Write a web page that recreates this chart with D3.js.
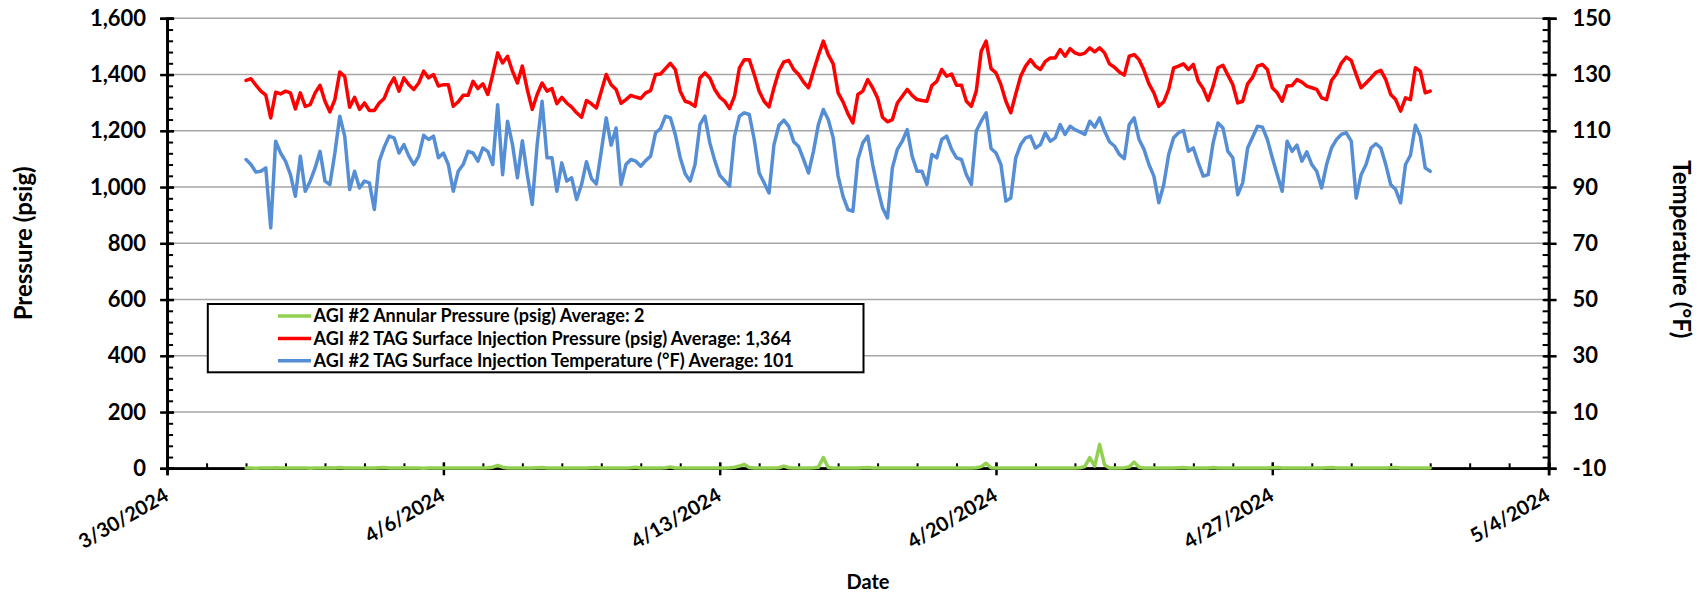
<!DOCTYPE html>
<html><head><meta charset="utf-8">
<script src="https://cdn.jsdelivr.net/npm/d3@7"></script>
<style>
html,body{margin:0;padding:0;background:#fff;}
svg{display:block;font-family:Lato,"Open Sans",sans-serif;}
</style></head><body>
<svg id="chart" width="1698" height="594"></svg>
<script>
// ---------------- DATA ----------------
const startTime = "2024-04-01T00:00:00Z";   // first reading
const stepHours = 3;                         // reading interval
const xDomain = ["3/30/2024", "5/4/2024"];
const xTickLabels = ["3/30/2024", "4/6/2024", "4/13/2024", "4/20/2024", "4/27/2024", "5/4/2024"];
const pressureTicks = [0, 200, 400, 600, 800, 1000, 1200, 1400, 1600];
const temperatureTicks = [-10, 10, 30, 50, 70, 90, 110, 130, 150];
const seriesNames = [
  "AGI #2 Annular Pressure (psig) Average: 2",
  "AGI #2 TAG Surface Injection Pressure (psig) Average: 1,364",
  "AGI #2 TAG Surface Injection Temperature (°F) Average: 101"
];
const annularPsig = [
  1,1,0,1,1,1,2,1,1,1, 1,1,1,0,1,1,1,2,1,3, 1,1,1,1,1,1,1,2,3,1, 1,1,2,1,1,1,0,1,1,1,
  1,1,1,1,1,1,1,1,1,2, 4,10,4,1,1,1,1,1,1,2, 3,1,1,1,1,1,1,1,1,1, 2,3,1,1,1,1,1,1,2,4,
  1,1,1,1,1,2,5,1,1,1, 1,1,1,1,1,1,1,1,2,4, 8,14,3,1,1,1,1,1,2,8, 2,1,1,1,1,2,4,38,3,1,
  1,1,1,1,1,2,3,1,1,1, 1,1,1,1,1,1,1,1,1,1, 1,1,1,1,1,1,1,1,2,6, 18,2,1,1,1,1,1,1,1,1,
  1,1,1,1,1,1,1,1,1,2, 6,38,8,85,12,1,1,1,2,5, 22,4,1,1,1,1,1,1,1,2, 3,1,1,1,1,1,3,1,1,1,
  1,1,1,1,1,1,1,1,2,3, 1,1,1,1,1,1,1,1,1,2, 3,1,1,1,1,1,1,1,1,1, 1,1,2,3,1,1,1,1,1,1,
  1
];
const injectionPsig = [
  1379,1385,1362,1341,1327,1246,1337,1331,1341,1335, 1278,1335,1287,1293,1335,1362,1305,1267,1311,1409,
  1393,1284,1319,1276,1299,1272,1272,1299,1315,1359, 1388,1341,1388,1364,1347,1370,1412,1388,1400,1359,
  1364,1364,1287,1303,1326,1326,1376,1350,1367,1329, 1400,1477,1441,1465,1412,1370,1430,1347,1276,1329,
  1370,1341,1350,1296,1319,1299,1284,1264,1248,1308, 1296,1281,1341,1400,1364,1347,1298,1311,1326,1320,
  1315,1335,1343,1400,1402,1421,1440,1418,1341,1305, 1299,1287,1388,1406,1388,1347,1320,1305,1279,1323,
  1424,1453,1453,1400,1341,1305,1285,1353,1412,1445, 1450,1418,1400,1373,1353,1412,1468,1519,1471,1438,
  1335,1303,1260,1228,1329,1341,1382,1353,1317,1248, 1232,1240,1299,1323,1347,1326,1311,1308,1305,1361,
  1376,1418,1394,1402,1362,1362,1305,1287,1341,1483, 1519,1421,1406,1364,1305,1264,1331,1394,1430,1453,
  1430,1418,1447,1459,1459,1489,1465,1492,1477,1471, 1476,1495,1481,1495,1477,1438,1426,1409,1398,1465,
  1471,1453,1415,1367,1335,1287,1303,1347,1424,1430, 1438,1418,1436,1376,1350,1308,1359,1424,1433,1398,
  1364,1299,1305,1367,1390,1430,1436,1418,1353,1335, 1305,1359,1361,1382,1373,1359,1353,1347,1317,1311,
  1379,1402,1441,1462,1450,1400,1353,1370,1388,1408, 1415,1382,1329,1311,1270,1317,1311,1424,1412,1335,
  1341
];
const injectionTempF = [
  99.8,98.0,95.3,95.6,96.8,75.5,106.3,102.1,99.2,94.4, 86.7,101.0,88.5,92.1,96.8,102.7,92.1,90.9,102.1,115.2,
  108.1,89.1,95.6,89.7,92.1,91.5,82.0,99.2,104.2,108.1, 107.5,102.1,105.1,101.0,98.0,101.0,108.4,106.9,108.1,100.4,
  102.1,98.0,88.5,95.6,98.0,102.7,102.1,99.2,103.9,102.7, 98.0,119.3,94.4,113.4,105.1,93.3,106.5,94.4,83.8,105.1,
  120.5,100.4,100.4,88.5,98.6,92.1,93.3,85.6,90.9,99.0, 93.0,91.1,102.7,114.6,104.9,111.0,90.9,98.0,99.8,99.2,
  97.4,99.4,101.0,109.3,110.8,115.2,114.6,108.7,100.4,94.7, 92.1,98.0,112.2,115.2,105.7,99.4,94.2,92.3,90.3,108.1,
  115.2,116.4,115.8,106.9,95.0,91.5,87.9,105.1,111.9,113.8, 111.6,106.1,104.4,99.8,95.0,102.7,112.2,117.6,114.0,107.5,
  93.9,86.7,82.0,81.4,99.8,105.7,108.1,98.0,89.7,82.6, 79.0,96.8,103.4,106.3,110.4,101.0,95.6,95.6,90.9,101.6,
  100.4,106.9,108.1,103.4,100.4,99.8,94.4,90.9,109.9,113.4, 116.4,103.7,102.1,98.0,85.0,86.1,100.4,105.1,107.5,108.1,
  103.9,105.1,109.3,106.3,107.5,112.2,108.7,111.6,110.4,109.6, 108.7,113.4,111.3,114.6,109.9,106.1,104.6,101.6,100.1,112.2,
  114.6,106.9,103.4,98.0,93.9,84.4,90.9,101.6,107.5,109.3, 110.1,102.7,103.9,98.6,93.9,94.4,105.7,112.8,111.0,102.7,
  100.4,87.3,91.5,103.9,107.7,111.6,111.3,106.9,100.4,94.4, 88.5,106.3,102.7,104.9,99.2,102.5,98.0,95.6,89.7,98.0,
  103.9,106.9,108.7,109.3,106.3,86.1,94.4,98.0,103.9,105.4, 103.9,98.0,90.9,89.1,84.4,98.0,101.3,112.0,108.1,96.8,
  95.6
];
const seriesColors = ["#92D050", "#FF0000", "#558ED5"];

// ---------------- CHART ----------------
const W = 1698, H = 594;
const plot = {left: 167.1, right: 1548.6, top: 18.3, bottom: 468.3};
const parseDate = d3.utcParse("%m/%d/%Y");
const fmtDate = d3.utcFormat("%-m/%-d/%Y");
const t0 = new Date(startTime);
const times = injectionPsig.map((_, i) => d3.utcHour.offset(t0, i * stepHours));

const x = d3.scaleUtc().domain(xDomain.map(parseDate)).range([plot.left, plot.right]);
const yP = d3.scaleLinear().domain([pressureTicks[0], pressureTicks[pressureTicks.length-1]]).range([plot.bottom, plot.top]);
const yT = d3.scaleLinear().domain([temperatureTicks[0], temperatureTicks[temperatureTicks.length-1]]).range([plot.bottom, plot.top]);

const svg = d3.select("#chart");
svg.append("rect").attr("width", W).attr("height", H).attr("fill", "#fff");

// gridlines
svg.append("g").selectAll("line").data(pressureTicks.filter(d => d > 0)).join("line")
  .attr("x1", plot.left).attr("x2", plot.right)
  .attr("y1", d => yP(d)).attr("y2", d => yP(d))
  .attr("stroke", "#a6a6a6").attr("stroke-width", 1.5);

const tickFont = "700 22px Lato";
function styleAxis(g) {
  g.select(".domain").attr("stroke", "#000").attr("stroke-width", 2.5);
  g.selectAll(".tick line").attr("stroke", "#000").attr("stroke-width", 2.5);
}

// Left axis (pressure)
const pMinor = d3.range(pressureTicks[0], pressureTicks[pressureTicks.length-1] + 1, 40);
svg.append("g").attr("transform", `translate(${plot.left},0)`)
  .call(d3.axisRight(yP).tickValues(pMinor).tickSize(6).tickFormat(""))
  .call(styleAxis).call(g => g.selectAll(".tick line").attr("stroke-width", 2));
svg.append("g").attr("transform", `translate(${plot.left},0)`)
  .call(d3.axisRight(yP).tickValues(pressureTicks).tickSize(7).tickFormat(""))
  .call(styleAxis);
svg.append("g").attr("transform", `translate(${plot.left},0)`)
  .call(d3.axisLeft(yP).tickValues(pressureTicks).tickSize(7).tickPadding(14).tickFormat(d3.format(",")))
  .call(styleAxis)
  .call(g => g.selectAll("text").style("font", tickFont).attr("fill", "#000"));

// Right axis (temperature)
const tMinor = d3.range(temperatureTicks[0], temperatureTicks[temperatureTicks.length-1] + 1, 4);
svg.append("g").attr("transform", `translate(${plot.right},0)`)
  .call(d3.axisLeft(yT).tickValues(tMinor).tickSize(6).tickFormat(""))
  .call(styleAxis).call(g => g.selectAll(".tick line").attr("stroke-width", 2));
svg.append("g").attr("transform", `translate(${plot.right},0)`)
  .call(d3.axisLeft(yT).tickValues(temperatureTicks).tickSize(5).tickFormat(""))
  .call(styleAxis);
svg.append("g").attr("transform", `translate(${plot.right},0)`)
  .call(d3.axisRight(yT).tickValues(temperatureTicks).tickSize(8).tickPadding(16).tickFormat(d => String(d)))
  .call(styleAxis)
  .call(g => g.selectAll("text").style("font", tickFont).attr("fill", "#000"));

// X axis
const xMajor = xTickLabels.map(parseDate);
const xMinor = d3.utcDay.range(x.domain()[0], d3.utcDay.offset(x.domain()[1], 1));
svg.append("g").attr("transform", `translate(0,${plot.bottom})`)
  .call(d3.axisTop(x).tickValues(xMinor).tickSize(5).tickFormat(""))
  .call(styleAxis).call(g => g.selectAll(".tick line").attr("stroke-width", 2));
svg.append("g").attr("transform", `translate(0,${plot.bottom})`)
  .call(d3.axisTop(x).tickValues(xMajor).tickSize(6).tickFormat(""))
  .call(styleAxis);
svg.append("g").attr("transform", `translate(0,${plot.bottom})`)
  .call(d3.axisBottom(x).tickValues(xMajor).tickSize(7).tickFormat(""))
  .call(styleAxis);
svg.append("g").selectAll("text").data(xMajor).join("text")
  .attr("transform", d => `translate(${x(d) + 3},${plot.bottom + 31}) rotate(-30)`)
  .attr("text-anchor", "end")
  .style("font", "700 20px Lato").attr("fill", "#000")
  .text(d => fmtDate(d));

// Series
const lineP = d3.line().x((d, i) => x(times[i])).y(d => yP(d));
const lineT = d3.line().x((d, i) => x(times[i])).y(d => yT(d));
const gS = svg.append("g").attr("fill", "none").attr("stroke-width", 3.5).attr("stroke-linejoin", "round").attr("stroke-linecap", "round");
gS.append("path").attr("d", lineP(annularPsig)).attr("stroke", seriesColors[0]);
gS.append("path").attr("d", lineP(injectionPsig)).attr("stroke", seriesColors[1]);
gS.append("path").attr("d", lineT(injectionTempF)).attr("stroke", seriesColors[2]);

// Axis titles
svg.append("text").attr("transform", `translate(32,${(plot.top+plot.bottom)/2}) rotate(-90)`)
  .attr("text-anchor", "middle").style("font", "700 24px Lato").text("Pressure (psig)");
svg.append("text").attr("transform", `translate(1673,${(plot.top+plot.bottom)/2 + 6}) rotate(90)`)
  .attr("text-anchor", "middle").style("font", "700 24px Lato").text("Temperature (°F)");
svg.append("text").attr("x", 868).attr("y", 589)
  .attr("text-anchor", "middle").style("font", "700 20px Lato").text("Date");

// Legend
const lg = {x: 207.8, y: 304, w: 655.7, h: 68.3};
const lgG = svg.append("g");
lgG.append("rect").attr("x", lg.x).attr("y", lg.y).attr("width", lg.w).attr("height", lg.h)
  .attr("fill", "#fff").attr("stroke", "#000").attr("stroke-width", 2);
const rows = lgG.selectAll("g.row").data(seriesNames).join("g")
  .attr("transform", (d, i) => `translate(0,${lg.y + 12 + i * 22.4})`);
rows.append("line").attr("x1", 278).attr("x2", 311).attr("y1", 0).attr("y2", 0)
  .attr("stroke", (d, i) => seriesColors[i]).attr("stroke-width", 3.5);
rows.append("text").attr("x", 313.6).attr("y", 0).attr("dy", "0.35em")
  .style("font", "700 18px Lato").attr("fill", "#000").text(d => d);
</script>
</body></html>
